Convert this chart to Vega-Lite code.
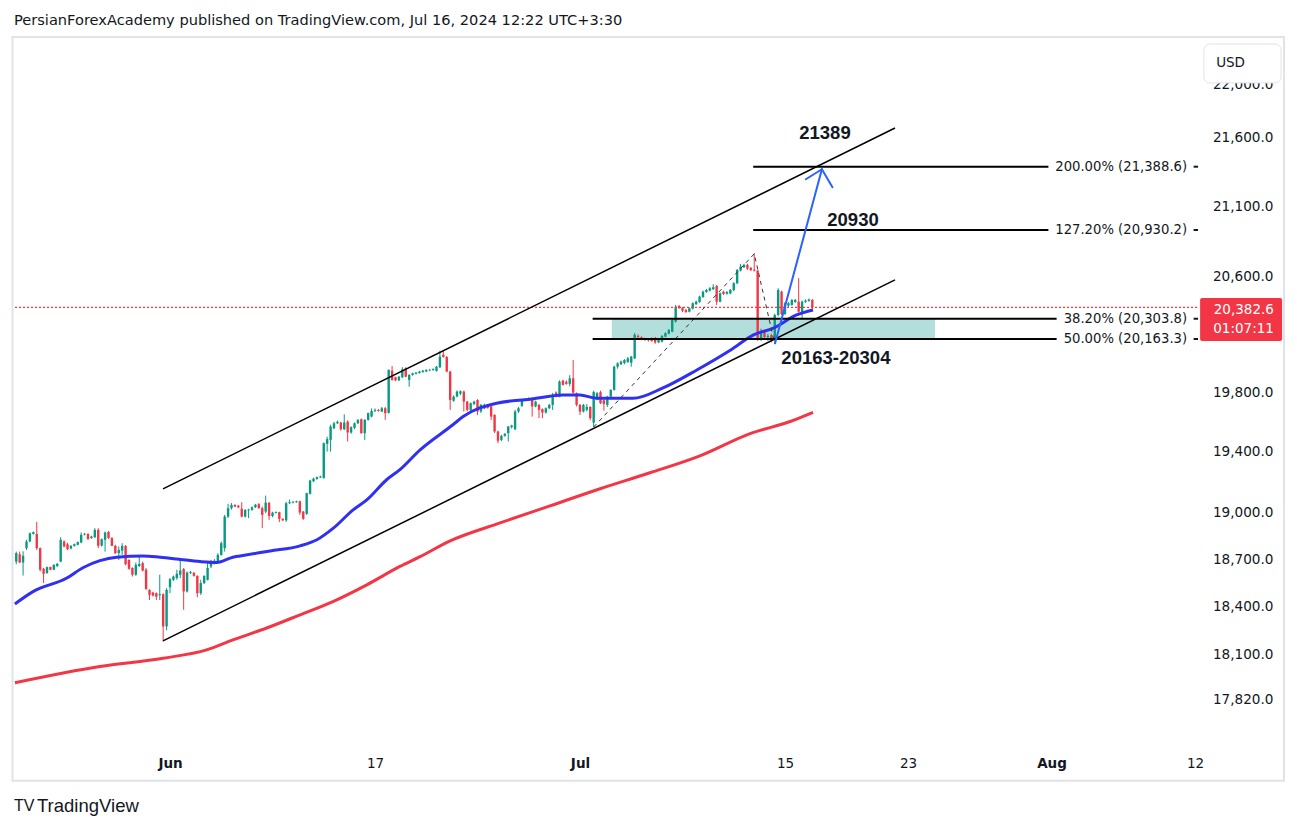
{
  "$schema": "https://vega.github.io/schema/vega-lite/v6.json",
  "width": 1183,
  "height": 712,
  "autosize": {"type": "none"},
  "padding": {"left": 14, "top": 38, "right": 100, "bottom": 80},
  "background": "#ffffff",
  "title": {"text": "PersianForexAcademy published on TradingView.com, Jul 16, 2024 12:22 UTC+3:30", "anchor": "start", "frame": "group", "offset": -4, "baseline": "alphabetic", "font": "DejaVu Sans", "fontSize": 14.6, "fontWeight": "normal", "color": "#131722"},
  "config": {"view": {"stroke": null}, "axis": {"grid": false, "domain": false, "ticks": false, "tickSize": 0, "labelFont": "DejaVu Sans", "labelColor": "#131722", "labelOverlap": false, "labelFlush": false}},
  "datasets": {
    "candles": [
      {"i":1,"o":18684,"h":18748,"l":18667,"c":18738},
      {"i":2,"o":18731,"h":18748,"l":18674,"c":18678},
      {"i":3,"o":18678,"h":18750,"l":18595,"c":18722},
      {"i":4,"o":18770,"h":18824,"l":18759,"c":18813},
      {"i":5,"o":18813,"h":18871,"l":18809,"c":18866},
      {"i":6,"o":18862,"h":18878,"l":18858,"c":18873},
      {"i":7,"o":18862,"h":18940,"l":18759,"c":18770},
      {"i":8,"o":18770,"h":18775,"l":18621,"c":18632},
      {"i":9,"o":18638,"h":18643,"l":18547,"c":18606},
      {"i":10,"o":18611,"h":18652,"l":18606,"c":18649},
      {"i":11,"o":18649,"h":18652,"l":18628,"c":18632},
      {"i":12,"o":18632,"h":18667,"l":18630,"c":18663},
      {"i":13,"o":18655,"h":18675,"l":18650,"c":18670},
      {"i":14,"o":18684,"h":18841,"l":18680,"c":18824},
      {"i":15,"o":18813,"h":18820,"l":18775,"c":18781},
      {"i":16,"o":18795,"h":18805,"l":18758,"c":18764},
      {"i":17,"o":18768,"h":18790,"l":18762,"c":18785},
      {"i":18,"o":18785,"h":18800,"l":18780,"c":18796},
      {"i":19,"o":18792,"h":18813,"l":18788,"c":18809},
      {"i":20,"o":18807,"h":18871,"l":18802,"c":18856},
      {"i":21,"o":18858,"h":18868,"l":18852,"c":18863},
      {"i":22,"o":18862,"h":18866,"l":18824,"c":18828},
      {"i":23,"o":18835,"h":18850,"l":18830,"c":18845},
      {"i":24,"o":18841,"h":18899,"l":18835,"c":18888},
      {"i":25,"o":18888,"h":18899,"l":18770,"c":18785},
      {"i":26,"o":18787,"h":18832,"l":18780,"c":18828},
      {"i":27,"o":18824,"h":18877,"l":18748,"c":18871},
      {"i":28,"o":18875,"h":18880,"l":18830,"c":18835},
      {"i":29,"o":18835,"h":18841,"l":18783,"c":18785},
      {"i":30,"o":18785,"h":18792,"l":18733,"c":18738},
      {"i":31,"o":18738,"h":18781,"l":18695,"c":18759},
      {"i":32,"o":18755,"h":18802,"l":18727,"c":18785},
      {"i":33,"o":18785,"h":18790,"l":18660,"c":18667},
      {"i":34,"o":18695,"h":18698,"l":18632,"c":18638},
      {"i":35,"o":18643,"h":18648,"l":18589,"c":18600},
      {"i":36,"o":18600,"h":18678,"l":18593,"c":18663},
      {"i":37,"o":18656,"h":18716,"l":18650,"c":18669},
      {"i":38,"o":18674,"h":18684,"l":18621,"c":18627},
      {"i":39,"o":18632,"h":18643,"l":18504,"c":18510},
      {"i":40,"o":18504,"h":18508,"l":18440,"c":18472},
      {"i":41,"o":18487,"h":18492,"l":18462,"c":18468},
      {"i":42,"o":18483,"h":18488,"l":18440,"c":18461},
      {"i":43,"o":18470,"h":18600,"l":18440,"c":18477},
      {"i":44,"o":18476,"h":18483,"l":18180,"c":18274},
      {"i":45,"o":18274,"h":18515,"l":18249,"c":18504},
      {"i":46,"o":18521,"h":18579,"l":18483,"c":18572},
      {"i":47,"o":18568,"h":18595,"l":18560,"c":18589},
      {"i":48,"o":18579,"h":18632,"l":18568,"c":18606},
      {"i":49,"o":18600,"h":18695,"l":18579,"c":18627},
      {"i":50,"o":18636,"h":18643,"l":18378,"c":18494},
      {"i":51,"o":18494,"h":18621,"l":18487,"c":18614},
      {"i":52,"o":18612,"h":18625,"l":18605,"c":18618},
      {"i":53,"o":18612,"h":18618,"l":18588,"c":18593},
      {"i":54,"o":18593,"h":18596,"l":18457,"c":18483},
      {"i":55,"o":18483,"h":18568,"l":18472,"c":18547},
      {"i":56,"o":18547,"h":18596,"l":18542,"c":18593},
      {"i":57,"o":18568,"h":18684,"l":18564,"c":18643},
      {"i":58,"o":18653,"h":18695,"l":18643,"c":18684},
      {"i":59,"o":18675,"h":18700,"l":18665,"c":18690},
      {"i":60,"o":18684,"h":18738,"l":18674,"c":18727},
      {"i":61,"o":18727,"h":18813,"l":18722,"c":18802},
      {"i":62,"o":18770,"h":18985,"l":18748,"c":18974},
      {"i":63,"o":18974,"h":19057,"l":18965,"c":19029},
      {"i":64,"o":19029,"h":19062,"l":19020,"c":19050},
      {"i":65,"o":19050,"h":19055,"l":19035,"c":19040},
      {"i":66,"o":19045,"h":19050,"l":19028,"c":19035},
      {"i":67,"o":19025,"h":19068,"l":18970,"c":18974},
      {"i":68,"o":18974,"h":19022,"l":18968,"c":19018},
      {"i":69,"o":19015,"h":19025,"l":18964,"c":19020},
      {"i":70,"o":19018,"h":19040,"l":19012,"c":19035},
      {"i":71,"o":19035,"h":19057,"l":19030,"c":19052},
      {"i":72,"o":19055,"h":19062,"l":19025,"c":19029},
      {"i":73,"o":19029,"h":19040,"l":18899,"c":18985},
      {"i":74,"o":19007,"h":19111,"l":18996,"c":19065},
      {"i":75,"o":19065,"h":19068,"l":18953,"c":18978},
      {"i":76,"o":18978,"h":19005,"l":18970,"c":19000},
      {"i":77,"o":18998,"h":19008,"l":18994,"c":19003},
      {"i":78,"o":19003,"h":19006,"l":18938,"c":18960},
      {"i":79,"o":18960,"h":18962,"l":18945,"c":18950},
      {"i":80,"o":18950,"h":19070,"l":18940,"c":19061},
      {"i":81,"o":19061,"h":19085,"l":19055,"c":19068},
      {"i":82,"o":19065,"h":19075,"l":19060,"c":19070},
      {"i":83,"o":19068,"h":19078,"l":19064,"c":19074},
      {"i":84,"o":19074,"h":19078,"l":18985,"c":19000},
      {"i":85,"o":19007,"h":19010,"l":18953,"c":18960},
      {"i":86,"o":18992,"h":19130,"l":18985,"c":19127},
      {"i":87,"o":19123,"h":19215,"l":19118,"c":19210},
      {"i":88,"o":19205,"h":19228,"l":19200,"c":19222},
      {"i":89,"o":19220,"h":19236,"l":19215,"c":19232},
      {"i":90,"o":19230,"h":19242,"l":19226,"c":19236},
      {"i":91,"o":19226,"h":19462,"l":19222,"c":19457},
      {"i":92,"o":19452,"h":19501,"l":19401,"c":19484},
      {"i":93,"o":19479,"h":19580,"l":19401,"c":19568},
      {"i":94,"o":19557,"h":19600,"l":19550,"c":19590},
      {"i":95,"o":19590,"h":19608,"l":19585,"c":19600},
      {"i":96,"o":19595,"h":19600,"l":19540,"c":19550},
      {"i":97,"o":19550,"h":19650,"l":19545,"c":19595},
      {"i":98,"o":19601,"h":19610,"l":19468,"c":19528},
      {"i":99,"o":19528,"h":19570,"l":19520,"c":19564},
      {"i":100,"o":19560,"h":19595,"l":19550,"c":19590},
      {"i":101,"o":19590,"h":19618,"l":19585,"c":19613},
      {"i":102,"o":19617,"h":19622,"l":19520,"c":19524},
      {"i":103,"o":19524,"h":19618,"l":19479,"c":19613},
      {"i":104,"o":19613,"h":19662,"l":19608,"c":19658},
      {"i":105,"o":19635,"h":19690,"l":19630,"c":19673},
      {"i":106,"o":19672,"h":19690,"l":19665,"c":19678},
      {"i":107,"o":19680,"h":19685,"l":19668,"c":19673},
      {"i":108,"o":19669,"h":19700,"l":19665,"c":19691},
      {"i":109,"o":19691,"h":19700,"l":19613,"c":19658},
      {"i":110,"o":19660,"h":19955,"l":19655,"c":19951},
      {"i":111,"o":19946,"h":19978,"l":19878,"c":19883},
      {"i":112,"o":19901,"h":19905,"l":19875,"c":19880},
      {"i":113,"o":19880,"h":19910,"l":19875,"c":19905},
      {"i":114,"o":19901,"h":19970,"l":19895,"c":19956},
      {"i":115,"o":19962,"h":19970,"l":19900,"c":19905},
      {"i":116,"o":19883,"h":19922,"l":19837,"c":19917},
      {"i":117,"o":19917,"h":19933,"l":19912,"c":19928},
      {"i":118,"o":19925,"h":19938,"l":19920,"c":19933},
      {"i":119,"o":19930,"h":19945,"l":19925,"c":19940},
      {"i":120,"o":19937,"h":19950,"l":19932,"c":19946},
      {"i":121,"o":19940,"h":19956,"l":19936,"c":19951},
      {"i":122,"o":19948,"h":19958,"l":19943,"c":19952},
      {"i":123,"o":19950,"h":19962,"l":19946,"c":19957},
      {"i":124,"o":19945,"h":19978,"l":19940,"c":19973},
      {"i":125,"o":19969,"h":20082,"l":19965,"c":20042},
      {"i":126,"o":20055,"h":20082,"l":20035,"c":20040},
      {"i":127,"o":20040,"h":20045,"l":19935,"c":19940},
      {"i":128,"o":19940,"h":19945,"l":19680,"c":19747},
      {"i":129,"o":19742,"h":19778,"l":19735,"c":19770},
      {"i":130,"o":19770,"h":19812,"l":19765,"c":19804},
      {"i":131,"o":19790,"h":19812,"l":19780,"c":19806},
      {"i":132,"o":19804,"h":19810,"l":19669,"c":19736},
      {"i":133,"o":19736,"h":19740,"l":19670,"c":19680},
      {"i":134,"o":19680,"h":19730,"l":19665,"c":19725},
      {"i":135,"o":19720,"h":19742,"l":19712,"c":19736},
      {"i":136,"o":19747,"h":19752,"l":19646,"c":19669},
      {"i":137,"o":19669,"h":19720,"l":19660,"c":19714},
      {"i":138,"o":19690,"h":19722,"l":19685,"c":19714},
      {"i":139,"o":19712,"h":19718,"l":19688,"c":19695},
      {"i":140,"o":19703,"h":19707,"l":19613,"c":19635},
      {"i":141,"o":19646,"h":19650,"l":19525,"c":19535},
      {"i":142,"o":19535,"h":19540,"l":19457,"c":19473},
      {"i":143,"o":19479,"h":19512,"l":19470,"c":19506},
      {"i":144,"o":19506,"h":19525,"l":19500,"c":19519},
      {"i":145,"o":19524,"h":19572,"l":19468,"c":19568},
      {"i":146,"o":19565,"h":19580,"l":19555,"c":19575},
      {"i":147,"o":19550,"h":19680,"l":19545,"c":19669},
      {"i":148,"o":19669,"h":19700,"l":19660,"c":19691},
      {"i":149,"o":19707,"h":19752,"l":19700,"c":19747},
      {"i":150,"o":19745,"h":19758,"l":19740,"c":19752},
      {"i":151,"o":19748,"h":19765,"l":19744,"c":19758},
      {"i":152,"o":19758,"h":19765,"l":19635,"c":19703},
      {"i":153,"o":19703,"h":19742,"l":19698,"c":19736},
      {"i":154,"o":19714,"h":19720,"l":19624,"c":19680},
      {"i":155,"o":19685,"h":19690,"l":19624,"c":19662},
      {"i":156,"o":19662,"h":19697,"l":19655,"c":19691},
      {"i":157,"o":19691,"h":19720,"l":19685,"c":19714},
      {"i":158,"o":19714,"h":19795,"l":19680,"c":19781},
      {"i":159,"o":19797,"h":19805,"l":19765,"c":19770},
      {"i":160,"o":19770,"h":19880,"l":19765,"c":19872},
      {"i":161,"o":19878,"h":19885,"l":19845,"c":19849},
      {"i":162,"o":19870,"h":19880,"l":19850,"c":19856},
      {"i":163,"o":19856,"h":19915,"l":19840,"c":19894},
      {"i":164,"o":19894,"h":20019,"l":19790,"c":19797},
      {"i":165,"o":19793,"h":19798,"l":19703,"c":19714},
      {"i":166,"o":19714,"h":19720,"l":19646,"c":19669},
      {"i":167,"o":19669,"h":19720,"l":19662,"c":19714},
      {"i":168,"o":19680,"h":19720,"l":19670,"c":19700},
      {"i":169,"o":19700,"h":19705,"l":19610,"c":19624},
      {"i":170,"o":19595,"h":19810,"l":19565,"c":19800},
      {"i":171,"o":19750,"h":19800,"l":19745,"c":19793},
      {"i":172,"o":19800,"h":19810,"l":19720,"c":19725},
      {"i":173,"o":19745,"h":19750,"l":19675,"c":19720},
      {"i":174,"o":19714,"h":19775,"l":19700,"c":19770},
      {"i":175,"o":19770,"h":19820,"l":19765,"c":19815},
      {"i":176,"o":19815,"h":19980,"l":19810,"c":19973},
      {"i":177,"o":19973,"h":20003,"l":19960,"c":19996},
      {"i":178,"o":19990,"h":20015,"l":19985,"c":20008},
      {"i":179,"o":19998,"h":20025,"l":19990,"c":20019},
      {"i":180,"o":20005,"h":20040,"l":20000,"c":20030},
      {"i":181,"o":20000,"h":20048,"l":19973,"c":20042},
      {"i":182,"o":20030,"h":20205,"l":20025,"c":20192},
      {"i":183,"o":20185,"h":20195,"l":20170,"c":20176},
      {"i":184,"o":20176,"h":20182,"l":20155,"c":20162},
      {"i":185,"o":20165,"h":20172,"l":20150,"c":20160},
      {"i":186,"o":20162,"h":20170,"l":20145,"c":20155},
      {"i":187,"o":20168,"h":20175,"l":20145,"c":20150},
      {"i":188,"o":20170,"h":20178,"l":20130,"c":20140},
      {"i":189,"o":20140,"h":20165,"l":20135,"c":20160},
      {"i":190,"o":20145,"h":20190,"l":20140,"c":20185},
      {"i":191,"o":20180,"h":20210,"l":20175,"c":20204},
      {"i":192,"o":20200,"h":20232,"l":20195,"c":20226},
      {"i":193,"o":20214,"h":20307,"l":20210,"c":20296},
      {"i":194,"o":20284,"h":20400,"l":20278,"c":20388},
      {"i":195,"o":20392,"h":20400,"l":20372,"c":20378},
      {"i":196,"o":20378,"h":20385,"l":20350,"c":20360},
      {"i":197,"o":20365,"h":20372,"l":20345,"c":20350},
      {"i":198,"o":20353,"h":20382,"l":20348,"c":20377},
      {"i":199,"o":20375,"h":20418,"l":20368,"c":20412},
      {"i":200,"o":20405,"h":20430,"l":20400,"c":20423},
      {"i":201,"o":20420,"h":20465,"l":20415,"c":20458},
      {"i":202,"o":20455,"h":20500,"l":20450,"c":20493},
      {"i":203,"o":20490,"h":20512,"l":20485,"c":20505},
      {"i":204,"o":20500,"h":20525,"l":20495,"c":20517},
      {"i":205,"o":20510,"h":20545,"l":20505,"c":20524},
      {"i":206,"o":20533,"h":20540,"l":20400,"c":20423},
      {"i":207,"o":20423,"h":20488,"l":20418,"c":20482},
      {"i":208,"o":20493,"h":20500,"l":20470,"c":20477},
      {"i":209,"o":20478,"h":20497,"l":20472,"c":20490},
      {"i":210,"o":20480,"h":20512,"l":20475,"c":20505},
      {"i":211,"o":20505,"h":20560,"l":20495,"c":20552},
      {"i":212,"o":20552,"h":20652,"l":20545,"c":20646},
      {"i":213,"o":20641,"h":20689,"l":20635,"c":20670},
      {"i":214,"o":20665,"h":20690,"l":20660,"c":20682},
      {"i":215,"o":20682,"h":20690,"l":20645,"c":20655},
      {"i":216,"o":20660,"h":20668,"l":20638,"c":20645},
      {"i":217,"o":20648,"h":20765,"l":20635,"c":20641},
      {"i":218,"o":20641,"h":20648,"l":20150,"c":20162},
      {"i":219,"o":20162,"h":20235,"l":20150,"c":20210},
      {"i":220,"o":20215,"h":20225,"l":20160,"c":20176},
      {"i":221,"o":20176,"h":20200,"l":20150,"c":20185},
      {"i":222,"o":20190,"h":20200,"l":20140,"c":20162},
      {"i":223,"o":20162,"h":20340,"l":20128,"c":20330},
      {"i":224,"o":20330,"h":20517,"l":20320,"c":20505},
      {"i":225,"o":20493,"h":20500,"l":20330,"c":20337},
      {"i":226,"o":20337,"h":20420,"l":20330,"c":20412},
      {"i":227,"o":20395,"h":20420,"l":20385,"c":20412},
      {"i":228,"o":20400,"h":20440,"l":20395,"c":20435},
      {"i":229,"o":20420,"h":20442,"l":20415,"c":20435},
      {"i":230,"o":20423,"h":20588,"l":20345,"c":20353},
      {"i":231,"o":20345,"h":20430,"l":20296,"c":20423},
      {"i":232,"o":20420,"h":20438,"l":20415,"c":20430},
      {"i":233,"o":20428,"h":20445,"l":20422,"c":20438},
      {"i":234,"o":20435,"h":20442,"l":20370,"c":20382.6}
    ],
    "ma50": [
      {"i":0.6,"p":18415},{"i":5.9,"p":18493},{"i":15.8,"p":18579},{"i":20.5,"p":18645},{"i":25.5,"p":18690},{"i":30.4,"p":18712},{"i":38.1,"p":18720},{"i":43.1,"p":18712},{"i":48.0,"p":18701},{"i":54.8,"p":18684},{"i":59.7,"p":18678},{"i":64.4,"p":18712},{"i":66.5,"p":18720},{"i":75.3,"p":18752},{"i":84.1,"p":18785},{"i":89.0,"p":18824},{"i":93.8,"p":18899},{"i":99.6,"p":19018},{"i":103.6,"p":19083},{"i":109.4,"p":19215},{"i":113.3,"p":19281},{"i":119.2,"p":19412},{"i":128.8,"p":19580},{"i":131.8,"p":19635},{"i":141.6,"p":19725},{"i":151.4,"p":19752},{"i":161.0,"p":19781},{"i":166.0,"p":19781},{"i":170.9,"p":19758},{"i":181.5,"p":19758},{"i":190.3,"p":19829},{"i":200.2,"p":19951},{"i":210.1,"p":20088},{"i":216.8,"p":20192},{"i":222.6,"p":20238},{"i":229.4,"p":20330},{"i":234.2,"p":20365}
    ],
    "ma200": [
      {"i":0.6,"p":17925},{"i":25.5,"p":18025},{"i":44.0,"p":18076},{"i":56.7,"p":18128},{"i":64.4,"p":18190},{"i":74.3,"p":18264},{"i":84.1,"p":18347},{"i":93.7,"p":18430},{"i":103.6,"p":18536},{"i":113.3,"p":18653},{"i":119.2,"p":18716},{"i":128.0,"p":18817},{"i":142.6,"p":18933},{"i":157.2,"p":19044},{"i":171.9,"p":19156},{"i":186.5,"p":19261},{"i":201.1,"p":19373},{"i":215.8,"p":19521},{"i":227.5,"p":19602},{"i":234.2,"p":19664}
    ],
    "channel": [
      {"i":43.95,"i2":258.2,"p":19155,"p2":21674},
      {"i":43.95,"i2":258.2,"p":18184,"p2":20576}
    ],
    "dashed": [
      {"i":170,"p":19565},{"i":217,"p":20760},{"i":223,"p":20130}
    ],
    "fib": [
      {"i":216.7,"i2":303.1,"p":21388.6,"li":343.7,"di":345.6,"di2":346.9,"label":"200.00% (21,388.6)"},
      {"i":216.7,"i2":303.1,"p":20930.2,"li":343.7,"di":345.6,"di2":346.9,"label":"127.20% (20,930.2)"},
      {"i":169.7,"i2":305.5,"p":20303.8,"li":343.7,"di":345.6,"di2":346.9,"label":"38.20% (20,303.8)"},
      {"i":169.7,"i2":305.5,"p":20163.3,"li":343.7,"di":345.6,"di2":346.9,"label":"50.00% (20,163.3)"}
    ],
    "arrow": [
      {"i":223.1,"i2":236.8,"p":20134,"p2":21370},
      {"i":232.1,"i2":236.8,"p":21297,"p2":21370},
      {"i":239.9,"i2":236.8,"p":21239,"p2":21370}
    ],
    "notes": [
      {"i":237.7,"p":21637,"label":"21389"},
      {"i":245.9,"p":21004,"label":"20930"},
      {"i":240.9,"p":20034,"label":"20163-20304"}
    ]
  },
  "layer": [
    {
      "data": {"values": [{"i": -0.1, "i2": 372.05, "p": 17333, "p2": 22360}]},
      "mark": {"type": "rect", "fill": "transparent", "stroke": "#e0e3eb", "strokeWidth": 2},
      "encoding": {
        "x": {"field": "i", "type": "quantitative", "title": null, "scale": {"domain": [0.34, 346.59], "nice": false, "zero": false, "padding": 0}},
        "x2": {"field": "i2"},
        "y": {"field": "p", "type": "quantitative", "title": null, "scale": {"type": "log", "domain": [17517, 22352], "nice": false, "zero": false}},
        "y2": {"field": "p2"}
      }
    },
    {
      "data": {"values": [{"i": 175.3, "i2": 269.9, "p": 20163.3, "p2": 20303.8}]},
      "mark": {"type": "rect", "color": "#b2dfdb"},
      "encoding": {
        "x": {"field": "i", "type": "quantitative", "title": null, "scale": {"domain": [0.34, 346.59], "nice": false, "zero": false, "padding": 0}},
        "x2": {"field": "i2"},
        "y": {"field": "p", "type": "quantitative", "title": null, "scale": {"type": "log", "domain": [17517, 22352], "nice": false, "zero": false}},
        "y2": {"field": "p2"}
      }
    },
    {
      "data": {"name": "candles"},
      "mark": {"type": "rule", "strokeWidth": 1},
      "encoding": {
        "x": {"field": "i", "type": "quantitative", "title": null, "scale": {"domain": [0.34, 346.59], "nice": false, "zero": false, "padding": 0},
          "axis": {"values": [46, 106, 166, 226, 262, 304, 346], "labelExpr": "datum.value == 46 ? 'Jun' : datum.value == 106 ? '17' : datum.value == 166 ? 'Jul' : datum.value == 226 ? '15' : datum.value == 262 ? '23' : datum.value == 304 ? 'Aug' : '12'",
            "labelFontWeight": {"condition": {"test": "datum.value == 46 || datum.value == 166 || datum.value == 304", "value": "bold"}, "value": "normal"},
            "title": null, "grid": false, "domain": false, "ticks": false, "tickSize": 0, "labelPadding": 13, "labelBaseline": "middle", "labelFont": "DejaVu Sans", "labelFontSize": 13.5, "labelColor": "#131722", "labelOverlap": false, "labelFlush": false}},
        "y": {"field": "l", "type": "quantitative", "title": null, "scale": {"type": "log", "domain": [17517, 22352], "nice": false, "zero": false},
          "axis": {"orient": "right", "values": [17820, 18100, 18400, 18700, 19000, 19400, 19800, 20600, 21100, 21600, 22000], "format": ",.1f", "title": null, "grid": false, "domain": false, "ticks": false, "tickSize": 0, "labelPadding": 76, "labelAlign": "right", "labelBaseline": "middle", "labelFont": "DejaVu Sans", "labelFontSize": 13.6, "labelColor": "#131722", "labelOverlap": false, "labelFlush": false}},
        "y2": {"field": "h"},
        "color": {"condition": {"test": "datum.c >= datum.o", "value": "#089981"}, "value": "#f23645"}
      }
    },
    {
      "data": {"name": "candles"},
      "mark": {"type": "bar", "width": 2.4},
      "encoding": {
        "x": {"field": "i", "type": "quantitative", "title": null, "scale": {"domain": [0.34, 346.59], "nice": false, "zero": false, "padding": 0}},
        "y": {"field": "o", "type": "quantitative", "title": null, "scale": {"type": "log", "domain": [17517, 22352], "nice": false, "zero": false}},
        "y2": {"field": "c"},
        "color": {"condition": {"test": "datum.c >= datum.o", "value": "#089981"}, "value": "#f23645"}
      }
    },
    {
      "data": {"name": "ma50"},
      "mark": {"type": "line", "color": "#3030f2", "strokeWidth": 3, "interpolate": "monotone"},
      "encoding": {
        "x": {"field": "i", "type": "quantitative", "title": null, "scale": {"domain": [0.34, 346.59], "nice": false, "zero": false, "padding": 0}},
        "y": {"field": "p", "type": "quantitative", "title": null, "scale": {"type": "log", "domain": [17517, 22352], "nice": false, "zero": false}}
      }
    },
    {
      "data": {"name": "ma200"},
      "mark": {"type": "line", "color": "#f23645", "strokeWidth": 3, "interpolate": "monotone"},
      "encoding": {
        "x": {"field": "i", "type": "quantitative", "title": null, "scale": {"domain": [0.34, 346.59], "nice": false, "zero": false, "padding": 0}},
        "y": {"field": "p", "type": "quantitative", "title": null, "scale": {"type": "log", "domain": [17517, 22352], "nice": false, "zero": false}}
      }
    },
    {
      "data": {"values": [{"p": 20382.6}]},
      "mark": {"type": "rule", "color": "#f23645", "strokeWidth": 1.2, "strokeDash": [2, 2]},
      "encoding": {
        "y": {"field": "p", "type": "quantitative", "title": null, "scale": {"type": "log", "domain": [17517, 22352], "nice": false, "zero": false}}
      }
    },
    {
      "data": {"name": "channel"},
      "mark": {"type": "rule", "color": "#000000", "strokeWidth": 1.5},
      "encoding": {
        "x": {"field": "i", "type": "quantitative", "title": null, "scale": {"domain": [0.34, 346.59], "nice": false, "zero": false, "padding": 0}},
        "x2": {"field": "i2"},
        "y": {"field": "p", "type": "quantitative", "title": null, "scale": {"type": "log", "domain": [17517, 22352], "nice": false, "zero": false}},
        "y2": {"field": "p2"}
      }
    },
    {
      "data": {"name": "dashed"},
      "mark": {"type": "line", "color": "#333333", "strokeWidth": 1, "strokeDash": [4, 4]},
      "encoding": {
        "x": {"field": "i", "type": "quantitative", "title": null, "scale": {"domain": [0.34, 346.59], "nice": false, "zero": false, "padding": 0}},
        "y": {"field": "p", "type": "quantitative", "title": null, "scale": {"type": "log", "domain": [17517, 22352], "nice": false, "zero": false}}
      }
    },
    {
      "data": {"name": "fib"},
      "mark": {"type": "rule", "color": "#000000", "strokeWidth": 2},
      "encoding": {
        "x": {"field": "i", "type": "quantitative", "title": null, "scale": {"domain": [0.34, 346.59], "nice": false, "zero": false, "padding": 0}},
        "x2": {"field": "i2"},
        "y": {"field": "p", "type": "quantitative", "title": null, "scale": {"type": "log", "domain": [17517, 22352], "nice": false, "zero": false}}
      }
    },
    {
      "data": {"name": "fib"},
      "mark": {"type": "rule", "color": "#131722", "strokeWidth": 2},
      "encoding": {
        "x": {"field": "di", "type": "quantitative", "title": null, "scale": {"domain": [0.34, 346.59], "nice": false, "zero": false, "padding": 0}},
        "x2": {"field": "di2"},
        "y": {"field": "p", "type": "quantitative", "title": null, "scale": {"type": "log", "domain": [17517, 22352], "nice": false, "zero": false}}
      }
    },
    {
      "data": {"name": "fib"},
      "mark": {"type": "text", "align": "right", "baseline": "middle", "font": "DejaVu Sans", "fontSize": 13.2, "color": "#131722"},
      "encoding": {
        "x": {"field": "li", "type": "quantitative", "title": null, "scale": {"domain": [0.34, 346.59], "nice": false, "zero": false, "padding": 0}},
        "y": {"field": "p", "type": "quantitative", "title": null, "scale": {"type": "log", "domain": [17517, 22352], "nice": false, "zero": false}},
        "text": {"field": "label"}
      }
    },
    {
      "data": {"name": "arrow"},
      "mark": {"type": "rule", "color": "#2962ff", "strokeWidth": 2, "strokeCap": "round"},
      "encoding": {
        "x": {"field": "i", "type": "quantitative", "title": null, "scale": {"domain": [0.34, 346.59], "nice": false, "zero": false, "padding": 0}},
        "x2": {"field": "i2"},
        "y": {"field": "p", "type": "quantitative", "title": null, "scale": {"type": "log", "domain": [17517, 22352], "nice": false, "zero": false}},
        "y2": {"field": "p2"}
      }
    },
    {
      "data": {"name": "notes"},
      "mark": {"type": "text", "align": "center", "baseline": "middle", "font": "Liberation Sans", "fontWeight": "bold", "fontSize": 18.5, "color": "#131722"},
      "encoding": {
        "x": {"field": "i", "type": "quantitative", "title": null, "scale": {"domain": [0.34, 346.59], "nice": false, "zero": false, "padding": 0}},
        "y": {"field": "p", "type": "quantitative", "title": null, "scale": {"type": "log", "domain": [17517, 22352], "nice": false, "zero": false}},
        "text": {"field": "label"}
      }
    },
    {
      "data": {"values": [{"i": 347.5, "i2": 371.5, "p": 20150, "p2": 20449}]},
      "mark": {"type": "rect", "color": "#f23645", "cornerRadius": 2},
      "encoding": {
        "x": {"field": "i", "type": "quantitative", "title": null, "scale": {"domain": [0.34, 346.59], "nice": false, "zero": false, "padding": 0}},
        "x2": {"field": "i2"},
        "y": {"field": "p", "type": "quantitative", "title": null, "scale": {"type": "log", "domain": [17517, 22352], "nice": false, "zero": false}},
        "y2": {"field": "p2"}
      }
    },
    {
      "data": {"values": [{"i": 369.1, "p": 20368, "label": "20,382.6"}, {"i": 369.1, "p": 20233, "label": "01:07:11"}]},
      "mark": {"type": "text", "align": "right", "baseline": "middle", "font": "DejaVu Sans", "fontSize": 13.5, "color": "#ffffff"},
      "encoding": {
        "x": {"field": "i", "type": "quantitative", "title": null, "scale": {"domain": [0.34, 346.59], "nice": false, "zero": false, "padding": 0}},
        "y": {"field": "p", "type": "quantitative", "title": null, "scale": {"type": "log", "domain": [17517, 22352], "nice": false, "zero": false}},
        "text": {"field": "label"}
      }
    },
    {
      "data": {"values": [{"i": 348.6, "i2": 371.2, "p": 22011, "p2": 22306}]},
      "mark": {"type": "rect", "fill": "#ffffff", "stroke": "#e0e3eb", "strokeWidth": 1, "cornerRadius": 6},
      "encoding": {
        "x": {"field": "i", "type": "quantitative", "title": null, "scale": {"domain": [0.34, 346.59], "nice": false, "zero": false, "padding": 0}},
        "x2": {"field": "i2"},
        "y": {"field": "p", "type": "quantitative", "title": null, "scale": {"type": "log", "domain": [17517, 22352], "nice": false, "zero": false}},
        "y2": {"field": "p2"}
      }
    },
    {
      "data": {"values": [{"i": 352.2, "p": 22165, "label": "USD"}]},
      "mark": {"type": "text", "align": "left", "baseline": "middle", "font": "DejaVu Sans", "fontSize": 13.5, "color": "#131722"},
      "encoding": {
        "x": {"field": "i", "type": "quantitative", "title": null, "scale": {"domain": [0.34, 346.59], "nice": false, "zero": false, "padding": 0}},
        "y": {"field": "p", "type": "quantitative", "title": null, "scale": {"type": "log", "domain": [17517, 22352], "nice": false, "zero": false}},
        "text": {"field": "label"}
      }
    },
    {
      "data": {"values": [{"i": 0.34, "p": 17185, "label": "TV", "w": "bold", "s": 16}, {"i": 7.07, "p": 17185, "label": "TradingView", "w": "normal", "s": 18.5}]},
      "mark": {"type": "text", "align": "left", "baseline": "middle", "font": "Liberation Sans", "color": "#131722"},
      "encoding": {
        "x": {"field": "i", "type": "quantitative", "title": null, "scale": {"domain": [0.34, 346.59], "nice": false, "zero": false, "padding": 0}},
        "y": {"field": "p", "type": "quantitative", "title": null, "scale": {"type": "log", "domain": [17517, 22352], "nice": false, "zero": false}},
        "text": {"field": "label"},
        "fontWeight": {"field": "w", "type": "nominal", "scale": null, "legend": null},
        "size": {"field": "s", "type": "quantitative", "scale": null, "legend": null}
      }
    }
  ]
}
